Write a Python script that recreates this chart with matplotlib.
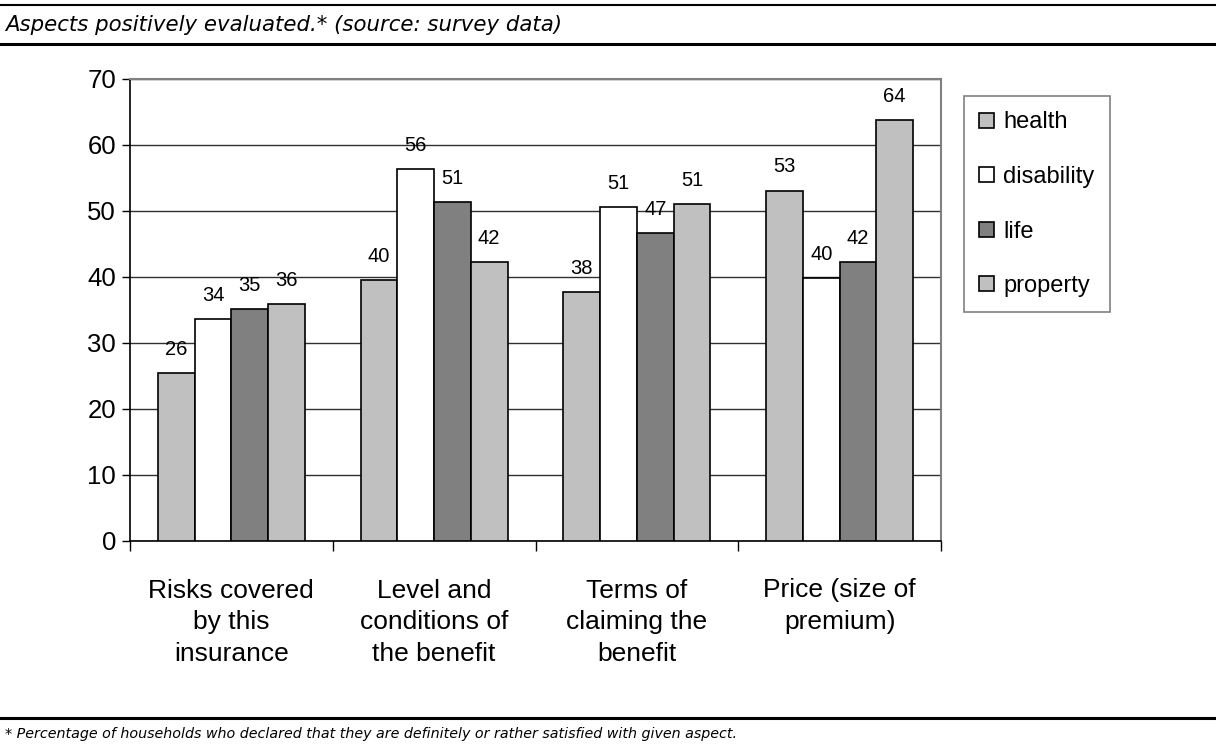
import matplotlib
matplotlib.use("Agg")
import matplotlib.pyplot as plt
from matplotlib.lines import Line2D
import numpy as np

# Survey results: share of households satisfied with each aspect (%)
categories = [
    "Risks covered\nby this\ninsurance",
    "Level and\nconditions of\nthe benefit",
    "Terms of\nclaiming the\nbenefit",
    "Price (size of\npremium)\n",
]
series_names = ["health", "disability", "life", "property"]
health = [25.5, 39.5, 37.7, 53.1]
disability = [33.7, 56.4, 50.6, 39.9]
life = [35.1, 51.3, 46.6, 42.2]
property_ = [35.9, 42.2, 51.0, 63.8]
series_values = [health, disability, life, property_]
series_colors = ["#C0C0C0", "#FFFFFF", "#808080", "#C0C0C0"]
y_ticks = [0, 10, 20, 30, 40, 50, 60, 70]

title = "Aspects positively evaluated.* (source: survey data)"
footnote = ("* Percentage of households who declared that they are definitely "
            "or rather satisfied with given aspect.")

W, H = 1216, 749
fig = plt.figure(figsize=(W / 100, H / 100), dpi=100)
fig.patch.set_facecolor("white")

sans = ["Liberation Sans", "DejaVu Sans"]

ax = fig.add_axes([130 / W, 1 - 541 / H, 811 / W, 462 / H])
x = np.arange(len(categories))
bar_w = 0.181
offsets = (np.arange(len(series_names)) - 1.5) * bar_w

for vals, name, col, off in zip(series_values, series_names, series_colors, offsets):
    bars = ax.bar(x + off, vals, width=bar_w, color=col, edgecolor="black",
                  linewidth=1.2, label=name, zorder=3)
    for b, v in zip(bars, vals):
        ax.annotate(f"{int(v + 0.5)}", (b.get_x() + b.get_width() / 2, v),
                    xytext=(0, 13), textcoords="offset points",
                    ha="center", va="baseline", fontsize=14.5,
                    family=sans, zorder=4)

ax.set_xlim(-0.5, len(categories) - 0.5)
ax.set_ylim(0, 70)
ax.set_yticks(y_ticks)
ax.yaxis.grid(True, color="#303030", linewidth=1.0, zorder=0)
ax.set_axisbelow(True)

# category labels at group centres, tick marks at group boundaries
ax.set_xticks(x)
ax.set_xticklabels(categories, fontsize=19, family=sans, linespacing=1.42,
                   va="top")
ax.set_xticks(np.arange(len(categories) + 1) - 0.5, minor=True)
ax.tick_params(axis="x", which="major", length=0, pad=27)
ax.tick_params(axis="x", which="minor", length=7, width=1, direction="out",
               color="black")
ax.tick_params(axis="y", length=6, width=1, direction="out", pad=4,
               labelsize=18.5)
for lbl in ax.get_yticklabels():
    lbl.set_family(sans)

for side in ("top", "right"):
    ax.spines[side].set_color("#808080")
    ax.spines[side].set_linewidth(1.5)
for side in ("left", "bottom"):
    ax.spines[side].set_color("black")
    ax.spines[side].set_linewidth(1.2)

leg = fig.legend(loc="upper left", bbox_to_anchor=(964 / W, 1 - 96 / H),
                 bbox_transform=fig.transFigure, frameon=True, fancybox=False,
                 edgecolor="#606060", borderaxespad=0,
                 prop={"family": sans, "size": 17},
                 handlelength=0.6, handleheight=0.6, handletextpad=0.4,
                 labelspacing=1.38, borderpad=0.65)
leg.get_frame().set_linewidth(1.2)

# header and footer rules
fig.add_artist(Line2D([0, 1], [1 - 5 / H, 1 - 5 / H], color="black",
                      linewidth=1.5, transform=fig.transFigure))
fig.add_artist(Line2D([0, 1], [1 - 44 / H, 1 - 44 / H], color="black",
                      linewidth=2.2, transform=fig.transFigure))
fig.add_artist(Line2D([0, 1], [1 - 718 / H, 1 - 718 / H], color="black",
                      linewidth=2.2, transform=fig.transFigure))

fig.text(5 / W, 1 - 25 / H, title, ha="left", va="center", fontsize=15.3,
         style="italic", family="DejaVu Sans")
fig.text(5 / W, 1 - 734 / H, footnote, ha="left", va="center", fontsize=10.3,
         style="italic", family="DejaVu Sans")

fig.savefig("out.png", dpi=100, facecolor="white")
